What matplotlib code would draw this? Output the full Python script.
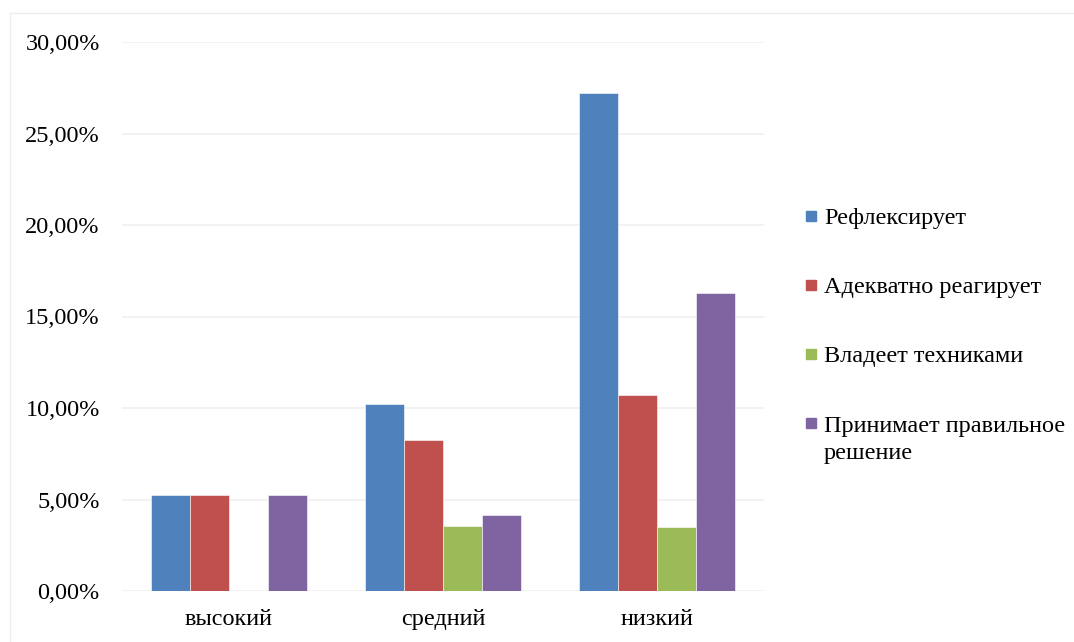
import matplotlib.pyplot as plt
import numpy as np
from matplotlib.patches import Rectangle
from matplotlib.ticker import FuncFormatter

plt.rcParams['font.family'] = ['Liberation Serif', 'DejaVu Serif']

# --- dados ---
categorias = ['высокий', 'средний', 'низкий']
series = ['Рефлексирует', 'Адекватно реагирует', 'Владеет техниками',
          'Принимает правильное\nрешение']
refleksiruet = [5.22, 10.24, 27.22]
adekvatno = [5.22, 8.24, 10.70]
vladeet = [0.0, 3.56, 3.52]
prinimaet = [5.27, 4.18, 16.30]
cores = ['#4F81BD', '#C0504D', '#9BBB59', '#8064A2']

valores = [refleksiruet, adekvatno, vladeet, prinimaet]

W, H = 1074, 642
fig = plt.figure(figsize=(W / 100, H / 100), dpi=100)
ax = fig.add_axes([122 / W, 1 - 591 / H, 642 / W, 549 / H])

x = np.arange(len(categorias))
largura = 1 / 5.5
for i, (vals, cor) in enumerate(zip(valores, cores)):
    pos = x + (i - 1.5) * largura
    ax.bar(pos, vals, width=largura, color=cor, edgecolor='white', linewidth=0.4, zorder=3)

ax.set_xlim(-0.5, 2.5)
ax.set_ylim(0, 30)
ax.set_yticks(np.arange(0, 31, 5))
ax.yaxis.set_major_formatter(FuncFormatter(lambda v, p: f'{v:.2f}%'.replace('.', ',')))
ax.set_xticks(x)
ax.set_xticklabels(categorias)
ax.tick_params(axis='both', length=0)
ax.tick_params(axis='y', pad=16, labelsize=17.5)
ax.tick_params(axis='x', pad=13, labelsize=17.5)
ax.grid(axis='y', color='#F0F0F0', linewidth=1.2, zorder=0)
for s in ax.spines.values():
    s.set_visible(False)

# legenda manual (linha de base da primeira linha em px)
ys = [224, 293, 362, 431]
passo_linha = 28
for nome, cor, yb in zip(series, cores, ys):
    fig.patches.append(Rectangle((806 / W, 1 - (yb - 3) / H), 10 / W, 10 / H,
                                 transform=fig.transFigure, color=cor))
    extra = nome.count('\n') * passo_linha
    fig.text(824 / W, 1 - (yb + extra) / H, nome, fontsize=17.5, va='baseline', ha='left',
             linespacing=1.39)

# borda clara do gráfico
fig.add_artist(plt.Line2D([10 / W, 1], [1 - 13 / H, 1 - 13 / H], color='#EDEDED', lw=1,
                          transform=fig.transFigure))
fig.add_artist(plt.Line2D([10 / W, 10 / W], [0, 1 - 13 / H], color='#EDEDED', lw=1,
                          transform=fig.transFigure))

plt.savefig('out.png', dpi=100)
